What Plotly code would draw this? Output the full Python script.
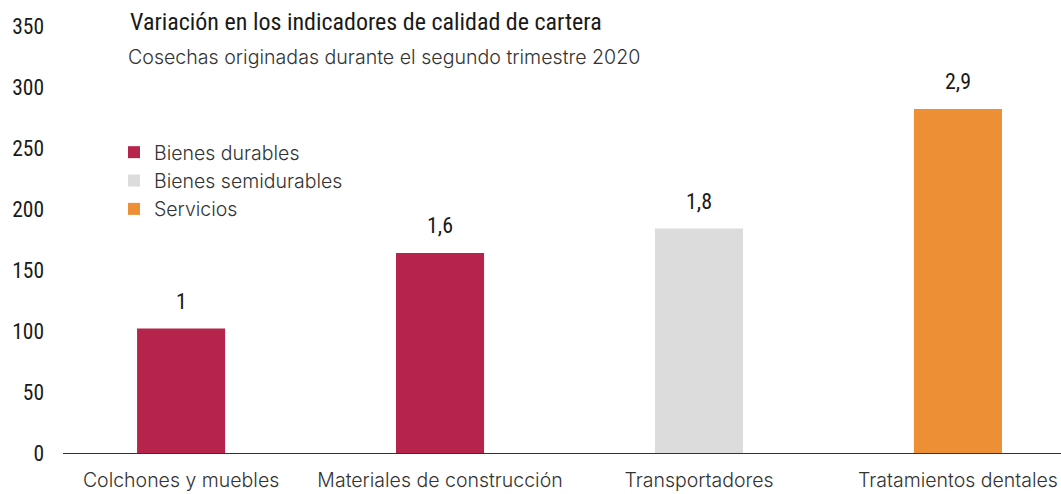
import plotly.graph_objects as go

categories = ["Colchones y muebles", "Materiales de construcción", "Transportadores", "Tratamientos dentales"]
values = [102, 164, 184, 282]
variation_labels = ["1", "1,6", "1,8", "2,9"]
groups = ["Bienes durables", "Bienes durables", "Bienes semidurables", "Servicios"]
group_order = ["Bienes durables", "Bienes semidurables", "Servicios"]
group_colors = {"Bienes durables": "#B7244B", "Bienes semidurables": "#DCDCDC", "Servicios": "#EC8F35"}
y_ticks = [0, 50, 100, 150, 200, 250, 300, 350]

COND = "Roboto Condensed, DejaVu Sans Condensed, Liberation Sans Narrow, Roboto, sans-serif"
REG = "Inter, Roboto, sans-serif"

fig = go.Figure()
for g in group_order:
    xs = [c for c, gg in zip(categories, groups) if gg == g]
    ys = [v for v, gg in zip(values, groups) if gg == g]
    fig.add_trace(go.Bar(x=xs, y=ys, name=g, marker=dict(color=group_colors[g], line=dict(width=0)),
                         width=0.34, hoverinfo="skip"))

for c, v, t in zip(categories, values, variation_labels):
    fig.add_annotation(x=c, y=v, text=t, showarrow=False, yanchor="middle", yshift=27,
                       font=dict(family=COND, size=22, color="#1a1a1a"))

fig.add_annotation(xref="paper", yref="paper", x=(128 - 63) / 998, y=(453 - 22) / 427,
                   xanchor="left", yanchor="middle", showarrow=False,
                   text="Variación en los indicadores de calidad de cartera",
                   font=dict(family=COND, size=24, color="#1a1a1a"))
fig.add_annotation(xref="paper", yref="paper", x=(126 - 63) / 998, y=(453 - 57) / 427,
                   xanchor="left", yanchor="middle", showarrow=False,
                   text="Cosechas originadas durante el segundo trimestre 2020",
                   font=dict(family=REG, size=19.6, color="#333333", weight=300))

fig.update_layout(
    width=1061, height=494,
    margin=dict(l=63, r=0, t=26, b=41, autoexpand=False),
    plot_bgcolor="white", paper_bgcolor="white",
    barmode="overlay",
    showlegend=True,
    legend=dict(x=(114 - 63) / 998, y=(453 - 133) / 427, xanchor="left", yanchor="top",
                bgcolor="rgba(0,0,0,0)", font=dict(family=REG, size=19.5, color="#333333", weight=300),
                itemclick=False, itemdoubleclick=False, tracegroupgap=0),
    xaxis=dict(range=[-0.456, 3.398], showgrid=False, showline=True, linecolor="#333333", linewidth=1,
               ticks="", ticklabelstandoff=10, automargin=False,
               tickfont=dict(family=REG, size=19.5, color="#333333", weight=300),
               categoryorder="array", categoryarray=categories, fixedrange=True),
    yaxis=dict(range=[0, 350], tickvals=y_ticks, showgrid=False, showline=False, zeroline=False,
               ticks="", ticklabelstandoff=18, automargin=False,
               tickfont=dict(family=COND, size=21.5, color="#1a1a1a"), fixedrange=True),
)

fig.write_html("out.html", config={"displayModeBar": False},
               post_script="document.body.style.margin='0';document.body.style.overflow='hidden';")
